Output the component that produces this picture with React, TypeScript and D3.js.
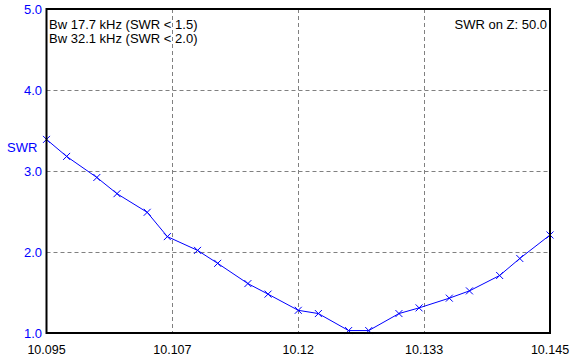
import React from "react";
import * as d3 from "d3";

const width = 583;
const height = 362;
const margin = { top: 9, right: 33, bottom: 29, left: 46.5 };

// sweep frequencies (MHz) and measured SWR
const freqs = [
  10.095, 10.097, 10.1, 10.102, 10.105, 10.107, 10.11, 10.112, 10.115, 10.117,
  10.12, 10.122, 10.125, 10.127, 10.13, 10.132, 10.135, 10.137, 10.14, 10.142, 10.145,
];
const swr = [
  3.39, 3.18, 2.92, 2.72, 2.49, 2.19, 2.02, 1.86, 1.61, 1.48,
  1.28, 1.24, 1.03, 1.03, 1.24, 1.31, 1.43, 1.52, 1.71, 1.92, 2.21,
];

const xTicks = [10.095, 10.1075, 10.12, 10.1325, 10.145];
const xTickLabels = ["10.095", "10.107", "10.12", "10.133", "10.145"];
const yTicks = [1, 2, 3, 4, 5];
const infoLines = ["Bw 17.7 kHz (SWR < 1.5)", "Bw 32.1 kHz (SWR < 2.0)"];
const zLabel = "SWR on Z: 50.0";

const font = "'Liberation Sans', Arial, sans-serif";

const App: React.FC = () => {
  const x = d3
    .scaleLinear()
    .domain([10.095, 10.145])
    .range([margin.left, width - margin.right]);
  const y = d3
    .scaleLinear()
    .domain([1, 5])
    .range([height - margin.bottom, margin.top]);

  const pts = freqs.map((f, i) => [f, swr[i]] as [number, number]);
  const line = d3
    .line<[number, number]>()
    .x((d) => x(d[0]))
    .y((d) => y(d[1]));

  const x0 = x.range()[0];
  const x1 = x.range()[1];
  const y0 = y.range()[0];
  const y1 = y.range()[1];

  return (
    <svg
      width={width}
      height={height}
      style={{ position: "absolute", left: 0, top: 0, background: "#fff" }}
      fontFamily={font}
      fontSize={13}
    >
      {/* grid */}
      {xTicks.slice(1, -1).map((t) => (
        <line
          key={"gx" + t}
          x1={Math.round(x(t)) + 0.5}
          x2={Math.round(x(t)) + 0.5}
          y1={y1}
          y2={y0}
          stroke="#808080"
          strokeDasharray="4,3"
        />
      ))}
      {yTicks.slice(1, -1).map((t) => (
        <line
          key={"gy" + t}
          x1={x0}
          x2={x1}
          y1={Math.round(y(t)) + 0.5}
          y2={Math.round(y(t)) + 0.5}
          stroke="#808080"
          strokeDasharray="4,3"
        />
      ))}

      {/* curve */}
      <path d={line(pts) ?? ""} fill="none" stroke="#0000ff" strokeWidth={1} />
      {pts.map((d, i) => {
        const cx = x(d[0]);
        const cy = y(d[1]);
        const s = 3.5;
        return (
          <path
            key={"m" + i}
            d={`M${cx - s},${cy - s}L${cx + s},${cy + s}M${cx - s},${cy + s}L${cx + s},${cy - s}`}
            stroke="#0000ff"
            strokeWidth={1}
          />
        );
      })}

      {/* frame */}
      <rect
        x={x0}
        y={y1}
        width={x1 - x0}
        height={y0 - y1}
        fill="none"
        stroke="#000"
        strokeWidth={2}
      />

      {/* y ticks */}
      {yTicks.map((t) => (
        <text
          key={"yt" + t}
          x={42}
          y={y(t)}
          dy="0.35em"
          textAnchor="end"
          fill="#0000ff"
        >
          {t.toFixed(1)}
        </text>
      ))}
      <text x={7} y={152} fill="#0000ff">
        SWR
      </text>

      {/* x ticks */}
      {xTicks.map((t, i) => (
        <text
          key={"xt" + t}
          x={x(t)}
          y={354}
          textAnchor="middle"
          fill="#000"
          fontSize={12.5}
        >
          {xTickLabels[i]}
        </text>
      ))}

      {/* annotations */}
      {infoLines.map((s, i) => (
        <text key={"info" + i} x={49} y={29 + i * 13.5} fill="#000">
          {s}
        </text>
      ))}
      <text x={547} y={29} textAnchor="end" fill="#000">
        {zLabel}
      </text>
    </svg>
  );
};

export default App;
